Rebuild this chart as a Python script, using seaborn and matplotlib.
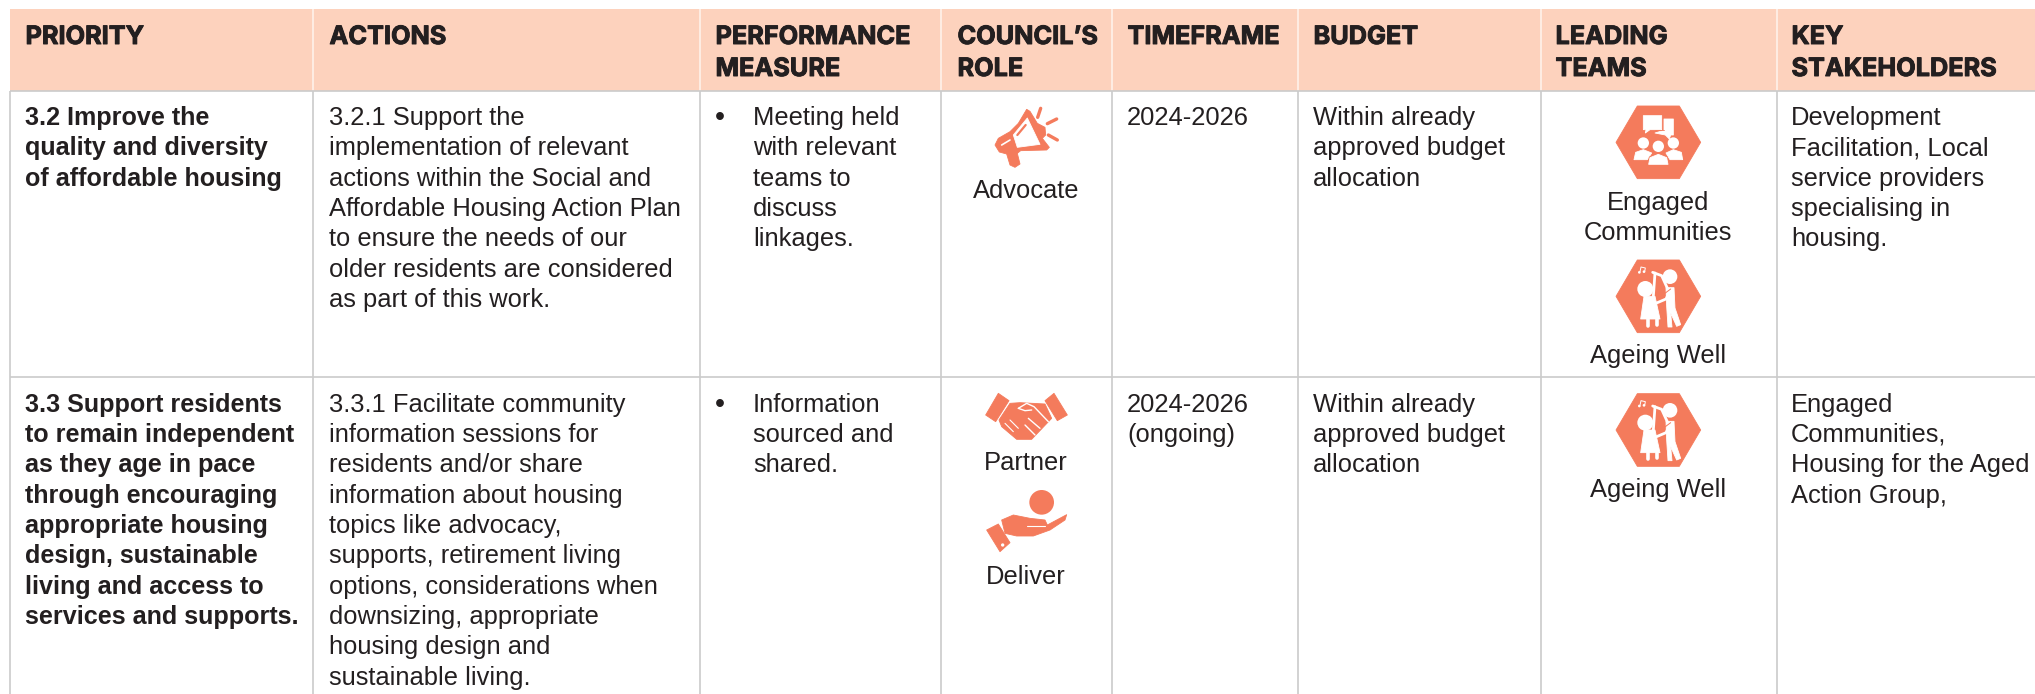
import matplotlib
matplotlib.use("Agg")
import matplotlib.pyplot as plt
from matplotlib.patches import Polygon, Circle, Rectangle
import matplotlib.patheffects as pe
import seaborn as sns

sns.set_theme(style="white")
BODY = "Liberation Sans"
HEAD = "Inter"
INK = "#231f20"
ORANGE = "#f47b5c"
PEACH = "#fdd2bd"
RULE = "#cbcbcb"
FS = 18.4

W, H = 2035, 694
col_edges = [10, 313, 700, 941, 1112, 1298, 1541, 1777]
text_x = [25, 329, 715, 957, 1127, 1313, 1555, 1791]
row_edges = [91, 377]

headers = [["PRIORITY"], ["ACTIONS"], ["PERFORMANCE", "MEASURE"], ["COUNCIL’S", "ROLE"],
           ["TIMEFRAME"], ["BUDGET"], ["LEADING", "TEAMS"], ["KEY", "STAKEHOLDERS"]]

priority = [["3.2 Improve the", "quality and diversity", "of affordable housing"],
            ["3.3 Support residents", "to remain independent", "as they age in pace",
             "through encouraging", "appropriate housing", "design, sustainable",
             "living and access to", "services and supports."]]
actions = [["3.2.1 Support the", "implementation of relevant", "actions within the Social and",
            "Affordable Housing Action Plan", "to ensure the needs of our",
            "older residents are considered", "as part of this work."],
           ["3.3.1 Facilitate community", "information sessions for", "residents and/or share",
            "information about housing", "topics like advocacy,", "supports, retirement living",
            "options, considerations when", "downsizing, appropriate",
            "housing design and", "sustainable living."]]
measures = [["Meeting held", "with relevant", "teams to", "discuss", "linkages."],
            ["Information", "sourced and", "shared."]]
timeframes = [["2024-2026"], ["2024-2026", "(ongoing)"]]
budgets = [["Within already", "approved budget", "allocation"],
           ["Within already", "approved budget", "allocation"]]
stakeholders = [["Development", "Facilitation, Local", "service providers", "specialising in", "housing."],
                ["Engaged", "Communities,", "Housing for the Aged", "Action Group,"]]
role_labels = [("Advocate", 198), ("Partner", 470), ("Deliver", 584)]
team_labels = [("Engaged", 210), ("Communities", 240), ("Ageing Well", 363), ("Ageing Well", 497)]

fig = plt.figure(figsize=(W / 100, H / 100), dpi=100, facecolor="white")
ax = fig.add_axes([0, 0, 1, 1])
ax.set_xlim(0, W)
ax.set_ylim(H, 0)
sns.despine(ax=ax, left=True, bottom=True)
ax.set_axis_off()

# header band
ax.add_patch(Rectangle((col_edges[0], 9), W - col_edges[0], row_edges[0] - 9, fc=PEACH, ec="none"))
for x in col_edges[1:]:
    ax.plot([x, x], [9, row_edges[0]], color="#fff2ea", lw=1.2, solid_capstyle="butt")
for x in col_edges:
    ax.plot([x, x], [row_edges[0], H], color=RULE, lw=1.2, solid_capstyle="butt")
for y in row_edges:
    ax.plot([col_edges[0], W], [y, y], color=RULE, lw=1.2, solid_capstyle="butt")

HEAD_BASE, HEAD_STEP = 44, 32
for x, lines in zip(text_x, headers):
    for i, t in enumerate(lines):
        ax.text(x + 0.5, HEAD_BASE + i * HEAD_STEP, t, family=HEAD, weight="bold", fontsize=18.2,
                color=INK, va="baseline", ha="left",
                path_effects=[pe.withStroke(linewidth=0.7, foreground=INK)])

LINE = 30.35
BASE = [125, 411.5]
def block(x, rows, size=FS, **kw):
    for base, lines in zip(BASE, rows):
        for i, t in enumerate(lines):
            ax.text(x, base + i * LINE, t, family=BODY, fontsize=size, color=INK,
                    va="baseline", ha="left", **kw)

block(text_x[0], priority, size=18.1, weight="bold")
block(text_x[1], actions)
block(753, measures)
block(text_x[4], timeframes)
block(text_x[5], budgets)
block(text_x[7], stakeholders)
for base in BASE:
    ax.text(720, base, "•", family=BODY, fontsize=FS + 2, color=INK, va="baseline", ha="center")
for t, y in role_labels:
    ax.text(1026, y, t, family=BODY, fontsize=FS, color=INK, ha="center", va="baseline")
for t, y in team_labels:
    ax.text(1658, y, t, family=BODY, fontsize=FS, color=INK, ha="center", va="baseline")


def mapper(ox, oy):
    return lambda pts: [(ox + a / 3, oy + b / 3) for a, b in pts]


def poly(m, pts, c=ORANGE, z=3):
    ax.add_patch(Polygon(m(pts), closed=True, fc=c, ec=c, lw=0.6, joinstyle="round", zorder=z))


def stroke(m, pts, c=ORANGE, lw=2.6, z=4):
    xy = m(pts)
    ax.plot([p[0] for p in xy], [p[1] for p in xy], color=c, lw=lw, solid_capstyle="round", zorder=z)


def circ(m, a, b, r, c=ORANGE, z=4):
    (x, y), = m([(a, b)])
    ax.add_patch(Circle((x, y), r / 3, fc=c, ec="none", zorder=z))


# megaphone
m = mapper(930, 90)
poly(m, [(290, 58), (300, 64), (322, 100), (345, 112), (347, 135), (337, 145), (358, 172), (350, 180),
         (272, 182), (262, 190), (270, 222), (255, 232), (240, 225), (230, 192), (208, 186), (195, 165),
         (205, 145), (240, 125), (265, 100)])
poly(m, [(292, 84), (330, 163), (262, 172), (250, 135)], "white", 4)
stroke(m, [(262, 135), (287, 105)], ORANGE, 1.6, 5)
stroke(m, [(215, 165), (240, 150)], "white", 1.2, 5)
stroke(m, [(323, 82), (332, 55)], lw=2.4)
stroke(m, [(352, 101), (380, 87)], lw=2.4)
stroke(m, [(355, 135), (382, 150)], lw=2.4)

# handshake
m = mapper(930, 380)
poly(m, [(205, 40), (237, 62), (197, 125), (167, 105)])
poly(m, [(372, 40), (412, 105), (382, 122), (345, 62)])
poly(m, [(240, 70), (270, 68), (345, 72), (365, 115), (305, 178), (260, 178), (215, 140), (207, 120)])
stroke(m, [(265, 85), (290, 70), (312, 80), (355, 125)], "white", 1.0)
stroke(m, [(265, 85), (285, 92), (305, 90)], "white", 1.0)
stroke(m, [(295, 115), (330, 145)], "white", 1.0)
stroke(m, [(285, 135), (315, 165)], "white", 1.0)
stroke(m, [(240, 120), (265, 145)], "white", 0.8)
stroke(m, [(225, 130), (250, 155)], "white", 0.8)

# hand with coin
circ(m, 335, 367, 37)
poly(m, [(215, 420), (250, 405), (300, 415), (345, 420), (352, 435), (410, 404), (405, 420), (360, 450),
         (310, 468), (260, 468), (225, 460)])
poly(m, [(205, 432), (240, 488), (210, 515), (170, 450)])
circ(m, 218, 495, 5, "white", 5)
stroke(m, [(290, 437), (345, 437)], "white", 0.8)


def hexagon(cy):
    m = mapper(1540, cy)
    poly(m, [(228, 0), (292, -109), (418, -109), (482, 0), (418, 109), (292, 109)])
    return m


def people(cy):
    m = hexagon(cy)
    poly(m, [(310, -80), (365, -80), (365, -38), (330, -38), (316, -28), (318, -38), (310, -38)], "white", 4)
    poly(m, [(372, -70), (400, -70), (400, -22), (392, -22), (388, -10), (376, -22), (345, -28), (372, -36)], "white", 4)
    stroke(m, [(345, -36), (372, -36)], ORANGE, 0.6, 5)
    for a, b, r in [(310, 2, 17), (400, 2, 17)]:
        circ(m, a, b, r, "white", 4)
    poly(m, [(282, 52), (287, 30), (310, 22), (335, 32), (322, 52)], "white", 4)
    poly(m, [(428, 52), (424, 30), (400, 22), (378, 32), (390, 52)], "white", 4)
    circ(m, 355, 12, 20, ORANGE, 5)
    circ(m, 355, 12, 17, "white", 6)
    poly(m, [(324, 66), (328, 44), (355, 33), (382, 44), (386, 66)], ORANGE, 5)
    poly(m, [(326, 66), (330, 46), (355, 36), (380, 46), (384, 66)], "white", 6)


def dancers(cy):
    m = hexagon(cy)
    circ(m, 390, -59, 22, "white", 4)
    stroke(m, [(385, -18), (365, -62), (338, -72)], "white", 2.0, 4)
    stroke(m, [(392, -22), (378, 8), (345, 22)], "white", 2.0, 4)
    poly(m, [(378, -26), (402, -26), (405, 35), (422, 85), (410, 90), (392, 50), (396, 92), (384, 92), (380, 30)], "white", 4)
    circ(m, 316, -22, 24, "white", 4)
    stroke(m, [(340, 0), (345, -70)], "white", 2.0, 5)
    poly(m, [(312, 0), (345, 0), (360, 68), (302, 68)], "white", 4)
    stroke(m, [(325, 68), (325, 88)], "white", 2.6, 4)
    stroke(m, [(350, 68), (350, 85)], "white", 2.6, 4)
    stroke(m, [(352, 8), (392, -22)], ORANGE, 0.7, 5)
    circ(m, 298, -72, 4, "white", 4)
    circ(m, 312, -74, 4, "white", 4)
    stroke(m, [(300, -74), (303, -88), (316, -85), (314, -74)], "white", 0.7, 4)


people(90 + 157 / 3)
dancers(90 + 619 / 3)
dancers(430)

fig.savefig("out.png", dpi=100, facecolor="white")
